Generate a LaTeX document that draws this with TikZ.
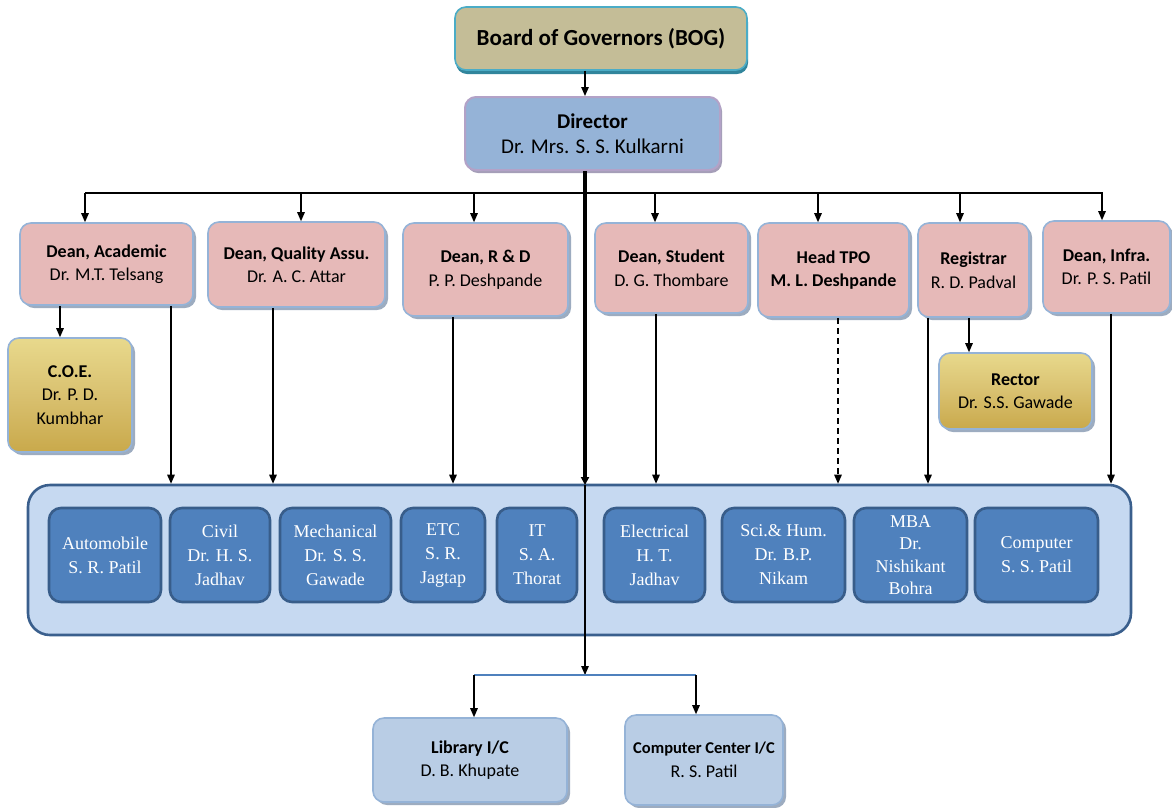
\documentclass[tikz,border=0pt]{standalone}
\usepackage{fontspec}
\setmainfont{Carlito}
\newfontfamily\deptfont{Liberation Serif}
\usetikzlibrary{arrows.meta,shadows}
\definecolor{bogfill}{HTML}{C4BD97}
\definecolor{bogdraw}{HTML}{4BACC6}
\definecolor{bogshadow}{HTML}{31859C}
\definecolor{dirfill}{HTML}{95B3D7}
\definecolor{dirdraw}{HTML}{B3A2C7}
\definecolor{dirshadow}{HTML}{8E86A6}
\definecolor{deanfill}{HTML}{E6B9B8}
\definecolor{lightblue}{HTML}{95B3D7}
\definecolor{deanshadow}{HTML}{8497B0}
\definecolor{goldA}{HTML}{C9A94B}
\definecolor{goldB}{HTML}{E8D98C}
\definecolor{goldC}{HTML}{D9C170}
\definecolor{contfill}{HTML}{C6D9F1}
\definecolor{contdraw}{HTML}{3A5F8D}
\definecolor{deptfill}{HTML}{4F81BD}
\definecolor{deptdraw}{HTML}{385D8A}
\definecolor{libfill}{HTML}{B9CDE5}
\definecolor{bluelink}{HTML}{4F81BD}
\begin{document}
\begin{tikzpicture}[x=1pt,y=-1pt,
  box/.style={rounded corners=11pt, inner sep=0pt, align=center, line width=1.6pt},
  bogbox/.style={box, fill=bogfill, draw=bogdraw,
    drop shadow={shadow xshift=1pt, shadow yshift=-4pt, fill=bogshadow, opacity=1},
    font=\fontsize{23}{27}\selectfont\bfseries},
  dirbox/.style={box, fill=dirfill, draw=dirdraw, line width=2pt,
    drop shadow={shadow xshift=2pt, shadow yshift=-3pt, fill=dirshadow, opacity=0.8},
    font=\fontsize{21}{25}\selectfont},
  deanbox/.style={box, fill=deanfill, draw=lightblue,
    drop shadow={shadow xshift=3pt, shadow yshift=-3pt, fill=deanshadow, opacity=0.8},
    font=\fontsize{18}{23.5}\selectfont},
  goldbox/.style={box, draw=lightblue, shading=axis, shading angle=35,
    top color=goldB, bottom color=goldA, middle color=goldC,
    drop shadow={shadow xshift=3pt, shadow yshift=-3pt, fill=deanshadow, opacity=0.8},
    font=\fontsize{18}{23.5}\selectfont},
  contbox/.style={rounded corners=22pt, fill=contfill, draw=contdraw, line width=2.6pt, inner sep=0pt},
  deptbox/.style={rounded corners=12pt, fill=deptfill, draw=deptdraw, line width=2.6pt,
    inner sep=0pt, align=center, text=white, font=\deptfont\fontsize{18}{24}\selectfont},
  libbox/.style={box, fill=libfill, draw=lightblue,
    drop shadow={shadow xshift=3pt, shadow yshift=-3pt, fill=deanshadow, opacity=0.8},
    font=\fontsize{18}{23.5}\selectfont},
  conn/.style={line width=1.3pt, -{Triangle[length=9pt,width=7.5pt]}},
  trunkline/.style={line width=3.5pt, -{Triangle[length=8pt,width=8pt]}},
  plain/.style={line width=1.3pt}
]
\useasboundingbox (0,0) rectangle (1172,807);

% top
\node[bogbox, minimum width=292pt, minimum height=63pt] (bog) at (601,38.5) {Board of Governors (BOG)};
\node[dirbox, minimum width=255pt, minimum height=73pt] (dir) at (592.5,133.5) {\textbf{Director}\\Dr. Mrs. S. S. Kulkarni};
\coordinate (cx) at (585,0);
\draw[conn] (bog.south -| cx) -- (dir.north -| cx);

% deans
\node[deanbox, minimum width=173pt, minimum height=82pt] (acad) at (106.5,264) {\textbf{Dean, Academic}\\Dr. M.T. Telsang};
\node[deanbox, minimum width=177pt, minimum height=85pt] (qual) at (296.5,264.5) {\textbf{Dean, Quality Assu.}\\Dr. A. C. Attar};
\node[deanbox, minimum width=165pt, minimum height=93pt] (rd) at (485.5,269.5) {\textbf{Dean, R \& D}\\P. P. Deshpande};
\node[deanbox, minimum width=153pt, minimum height=90pt] (stud) at (671.5,268) {\textbf{Dean, Student}\\D. G. Thombare};
\node[deanbox, minimum width=151pt, minimum height=94pt] (tpo) at (833.5,270) {\textbf{Head TPO}\\\textbf{M. L. Deshpande}};
\node[deanbox, minimum width=111pt, minimum height=94pt] (reg) at (973.5,270) {\textbf{Registrar}\\R. D. Padval};
\node[deanbox, minimum width=127pt, minimum height=92pt] (infra) at (1106.5,267) {\textbf{Dean, Infra.}\\Dr. P. S. Patil};

% branch line
\coordinate (bl) at (85,193);
\coordinate (br) at (1103,193);
\draw[plain] (bl) -- (br);
\foreach \x/\n in {85/acad,301/qual,474/rd,655/stud,818/tpo,960/reg,1102/infra}{
  \coordinate (d\n) at (\x,193);
  \draw[conn] (d\n) -- (d\n |- \n.north);
}

% COE and Rector
\node[goldbox, minimum width=124pt, minimum height=114pt] (coe) at (70,395) {\textbf{C.O.E.}\\Dr. P. D.\\Kumbhar};
\node[goldbox, minimum width=153pt, minimum height=76pt] (rector) at (1015.5,391) {\textbf{Rector}\\Dr. S.S. Gawade};
\coordinate (ca) at (60,0);
\draw[conn] (acad.south -| ca) -- (coe.north -| ca);
\coordinate (cr) at (969,0);
\draw[conn] (reg.south -| cr) -- (rector.north -| cr);

% container
\node[contbox, minimum width=1103pt, minimum height=150pt] (cont) at (579.5,560) {};

% links to container
\foreach \x/\n in {171/acad,273/qual,453/rd,656/stud,928/reg,1111/infra}{
  \coordinate (u\n) at (\x,0);
  \draw[conn] (\n.south -| u\n) -- (cont.north -| u\n);
}
\coordinate (utpo) at (838,0);
\draw[conn, dashed, dash pattern=on 6pt off 4pt] (tpo.south -| utpo) -- (cont.north -| utpo);

% departments
\tikzset{dh/.style={minimum height=94pt}}
\node[deptbox, dh, minimum width=112pt] (auto) at (105,555) {Automobile\\S. R. Patil};
\node[deptbox, dh, minimum width=100pt] (civil) at (220,555) {Civil\\Dr. H. S.\\Jadhav};
\node[deptbox, dh, minimum width=111pt] (mech) at (335.5,555) {Mechanical\\Dr. S. S.\\Gawade};
\node[deptbox, dh, minimum width=84pt] (etc) at (443,555) {ETC\\S. R.\\Jagtap};
\node[deptbox, dh, minimum width=80pt] (it) at (537,555) {IT\\S. A.\\Thorat};
\node[deptbox, dh, minimum width=101pt] (elec) at (654.5,555) {Electrical\\H. T.\\Jadhav};
\node[deptbox, dh, minimum width=123pt] (sci) at (783.5,555) {Sci.\& Hum.\\Dr. B.P.\\Nikam};
\node[deptbox, dh, minimum width=113pt, font=\deptfont\fontsize{18}{22.5}\selectfont] (mba) at (910.5,555) {MBA\\Dr.\\Nishikant\\Bohra};
\node[deptbox, dh, minimum width=123pt] (comp) at (1036.5,555) {Computer\\S. S. Patil};

% director trunk
\coordinate (trunk) at (585,485);
\coordinate (split) at (585,675);
\draw[trunkline] (dir.south -| cx) -- (trunk);
\draw[conn] (trunk) -- (split);

% bottom
\node[libbox, minimum width=194pt, minimum height=84pt] (lib) at (470,760) {\textbf{Library I/C}\\D. B. Khupate};
\node[libbox, minimum width=158pt, minimum height=90pt] (cc) at (704,760) {\textbf{\fontsize{16.5}{20}\selectfont Computer Center I/C}\\R. S. Patil};
\coordinate (sl) at (474,675);
\coordinate (sr) at (696,675);
\draw[line width=1.3pt, bluelink] (sl) -- (sr);
\draw[conn] (sl) -- (sl |- lib.north);
\draw[conn] (sr) -- (sr |- cc.north);
\end{tikzpicture}
\end{document}
